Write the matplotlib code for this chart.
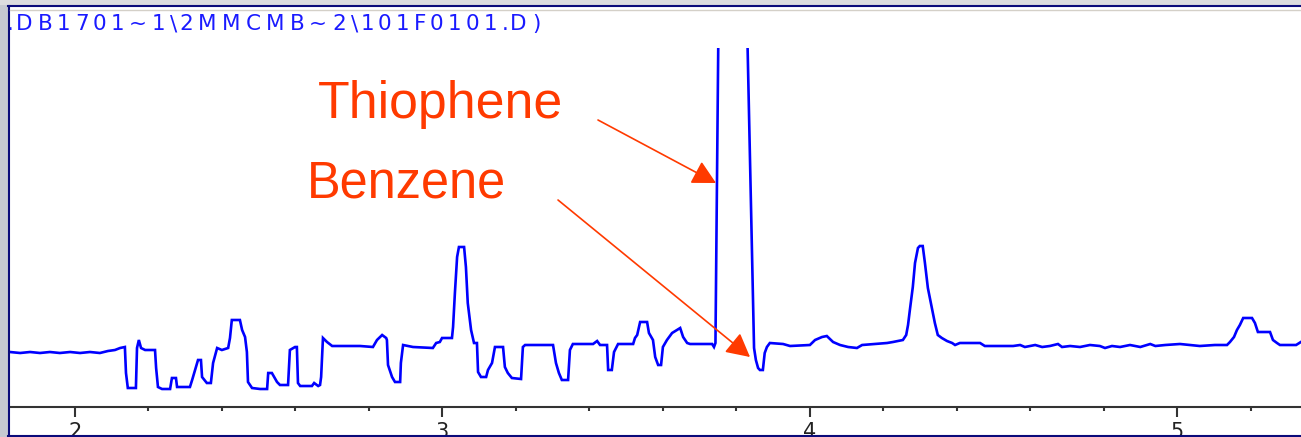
import matplotlib
matplotlib.use("Agg")
import matplotlib.pyplot as plt
from matplotlib.patches import Rectangle
from matplotlib.lines import Line2D
from matplotlib.font_manager import FontProperties
from matplotlib.ticker import MultipleLocator, FixedLocator, FixedFormatter

# ---- chromatogram trace: retention time (min) and detector response ----
time_min = [
    1.823, 1.851, 1.878, 1.905, 1.932, 1.959, 1.987, 2.014, 2.041, 2.068,
    2.090, 2.109, 2.123, 2.136, 2.139, 2.144, 2.166, 2.169, 2.174, 2.180,
    2.191, 2.218, 2.221, 2.226, 2.237, 2.259, 2.264, 2.275, 2.278, 2.313,
    2.319, 2.327, 2.335, 2.343, 2.346, 2.359, 2.370, 2.376, 2.387, 2.400,
    2.417, 2.422, 2.427, 2.449, 2.455, 2.463, 2.468, 2.471, 2.482, 2.504,
    2.523, 2.526, 2.536, 2.550, 2.558, 2.580, 2.585, 2.599, 2.604, 2.607,
    2.613, 2.645, 2.651, 2.662, 2.667, 2.670, 2.675, 2.686, 2.700, 2.776,
    2.811, 2.822, 2.836, 2.847, 2.849, 2.852, 2.863, 2.871, 2.885, 2.887,
    2.893, 2.920, 2.974, 2.983, 2.993, 2.999, 3.026, 3.029, 3.034, 3.040,
    3.045, 3.059, 3.064, 3.069, 3.078, 3.086, 3.094, 3.097, 3.105, 3.119,
    3.124, 3.135, 3.143, 3.165, 3.170, 3.178, 3.189, 3.214, 3.219, 3.225,
    3.301, 3.309, 3.317, 3.325, 3.342, 3.347, 3.355, 3.410, 3.421, 3.429,
    3.448, 3.451, 3.461, 3.467, 3.478, 3.519, 3.524, 3.530, 3.538, 3.557,
    3.562, 3.573, 3.579, 3.587, 3.595, 3.600, 3.611, 3.625, 3.638, 3.647,
    3.655, 3.666, 3.674, 3.734, 3.739, 3.743, 3.751, 3.791, 3.830, 3.848,
    3.853, 3.859, 3.864, 3.872, 3.877, 3.883, 3.891, 3.927, 3.946, 4.000,
    4.014, 4.033, 4.046, 4.063, 4.082, 4.104, 4.128, 4.142, 4.210, 4.226,
    4.253, 4.262, 4.267, 4.272, 4.280, 4.286, 4.294, 4.299, 4.307, 4.313,
    4.321, 4.332, 4.340, 4.348, 4.359, 4.373, 4.387, 4.395, 4.408, 4.463,
    4.476, 4.553, 4.572, 4.585, 4.613, 4.632, 4.653, 4.675, 4.686, 4.708,
    4.735, 4.762, 4.789, 4.803, 4.822, 4.844, 4.871, 4.899, 4.926, 4.940,
    4.967, 5.007, 5.034, 5.061, 5.102, 5.135, 5.143, 5.154, 5.162, 5.170,
    5.179, 5.203, 5.211, 5.219, 5.252, 5.260, 5.271, 5.279, 5.323, 5.336,
]
response = [
    55, 54, 55, 54, 55, 54, 55, 54, 55, 54,
    56, 57, 59, 60, 34, 19, 19, 59, 67, 59,
    57, 57, 39, 20, 18, 18, 29, 29, 20, 20,
    27, 37, 47, 47, 30, 24, 24, 44, 59, 57,
    59, 69, 87, 87, 77, 70, 55, 25, 19, 18,
    18, 34, 34, 25, 22, 22, 57, 60, 60, 24,
    21, 21, 24, 21, 22, 30, 69, 65, 61, 61,
    60, 67, 72, 69, 67, 42, 30, 25, 25, 44,
    62, 60, 59, 64, 65, 69, 69, 80, 114, 150,
    160, 160, 140, 104, 77, 64, 64, 35, 30, 30,
    37, 44, 60, 60, 40, 34, 29, 28, 60, 62,
    62, 44, 34, 27, 27, 57, 63, 63, 66, 62,
    62, 37, 37, 55, 63, 63, 69, 72, 85, 85,
    74, 67, 50, 42, 42, 60, 67, 74, 77, 79,
    70, 64, 63, 63, 60, 64, 367, 2407, 367, 59,
    47, 39, 37, 37, 54, 60, 64, 63, 61, 62,
    67, 70, 71, 65, 62, 60, 59, 62, 64, 65,
    67, 72, 82, 97, 120, 144, 159, 161, 161, 144,
    119, 99, 84, 72, 69, 66, 64, 62, 64, 64,
    61, 61, 62, 60, 62, 60, 61, 63, 60, 61,
    60, 62, 61, 59, 61, 60, 62, 60, 63, 61,
    62, 63, 62, 61, 62, 62, 65, 70, 77, 82,
    89, 89, 84, 75, 75, 67, 64, 62, 62, 65,
]

# ---- axis and labels ----
x_limits = (1.8234, 5.3363)
y_limits = (0, 359)
major_ticks = [2, 3, 4, 5]
major_labels = ["2", "3", "4", "5"]
file_header = ".DB1701~1\\2MMCMB~2\\101F0101.D)"

# compound labels: arrow tail and tip (time, response)
compound_names = ["Thiophene", "Benzene"]
arrow_tails = [(3.4234, 287), (3.3146, 207)]
arrow_tips = [(3.7445, 224), (3.8370, 50)]

W, H = 1301, 437
fig = plt.figure(figsize=(W / 100, H / 100), dpi=100, facecolor="white")

def fx(px):
    return px / W

def fy(py):
    return 1 - py / H

ax = fig.add_axes([fx(10), fy(407), fx(1291), 359 / H])
ax.set_facecolor("none")
ax.plot(time_min, response, color="#0000ff", lw=1.9, solid_joinstyle="miter",
        zorder=3)
ax.set_xlim(*x_limits)
ax.set_ylim(*y_limits)

for side in ("left", "right", "top"):
    ax.spines[side].set_visible(False)
ax.spines["bottom"].set_color("#333333")
ax.spines["bottom"].set_linewidth(1.5)
ax.set_yticks([])
ax.xaxis.set_major_locator(FixedLocator(major_ticks))
ax.xaxis.set_major_formatter(FixedFormatter(major_labels))
ax.xaxis.set_minor_locator(MultipleLocator(0.2))
ax.tick_params(axis="x", which="major", length=7.5, width=1.5, color="#333333",
               pad=3, labelsize=15, labelcolor="#222222")
ax.tick_params(axis="x", which="minor", length=3, width=1.5, color="#333333")
for lab in ax.get_xticklabels():
    lab.set_fontfamily("DejaVu Sans")

# compound labels with arrows
red = "#ff3a00"
text_pos_px = [(318, 118), (307, 198)]
text_sizes = [37.4, 36.4]
for name, (tx, ty), size, tail, tip in zip(compound_names, text_pos_px,
                                           text_sizes, arrow_tails, arrow_tips):
    fig.text(fx(tx), fy(ty), name, color=red, fontsize=size,
             family="Liberation Sans", ha="left", va="baseline")
    ax.annotate("", xy=tip, xytext=tail, xycoords="data", textcoords="data",
                arrowprops=dict(arrowstyle="-|>,head_length=0.72,head_width=0.38",
                                color=red, lw=1.2, mutation_scale=20,
                                shrinkA=0, shrinkB=0),
                annotation_clip=False, zorder=4)

# window frame around the plot
fig.patches.append(Rectangle((fx(0), fy(437)), fx(8), 1, transform=fig.transFigure,
                             facecolor="#c6c9d1", edgecolor="none", zorder=10))
fig.patches.append(Rectangle((fx(0), fy(5)), 1, 5 / H, transform=fig.transFigure,
                             facecolor="#dcdcdf", edgecolor="none", zorder=10))
frame_kw = dict(transform=fig.transFigure, color="#0b0b7a", lw=1.5, zorder=11)
fig.lines.append(Line2D([fx(8), 1], [fy(5.5), fy(5.5)], **frame_kw))
fig.lines.append(Line2D([fx(8.5), fx(8.5)], [fy(5.5), fy(436)], **frame_kw))
fig.lines.append(Line2D([fx(8), 1], [fy(436), fy(436)], **frame_kw))
fig.lines.append(Line2D([fx(10), 1], [fy(9.5), fy(9.5)], transform=fig.transFigure,
                        color="#d4d0c8", lw=1.0, zorder=11))

# data-file header, letter-spaced across the top of the window
renderer = fig.canvas.get_renderer()
hdr_font = FontProperties(family="DejaVu Sans", size=15.5)
stretch = 1.31
x = 7.0
for ch in file_header:
    w, _, _ = renderer.get_text_width_height_descent(ch, hdr_font, ismath=False)
    fig.text(fx(x), fy(30), ch, fontproperties=hdr_font, color="#1a1aff",
             ha="left", va="baseline", zorder=5)
    x += w * stretch

fig.savefig("out.png", dpi=100, facecolor="white")
